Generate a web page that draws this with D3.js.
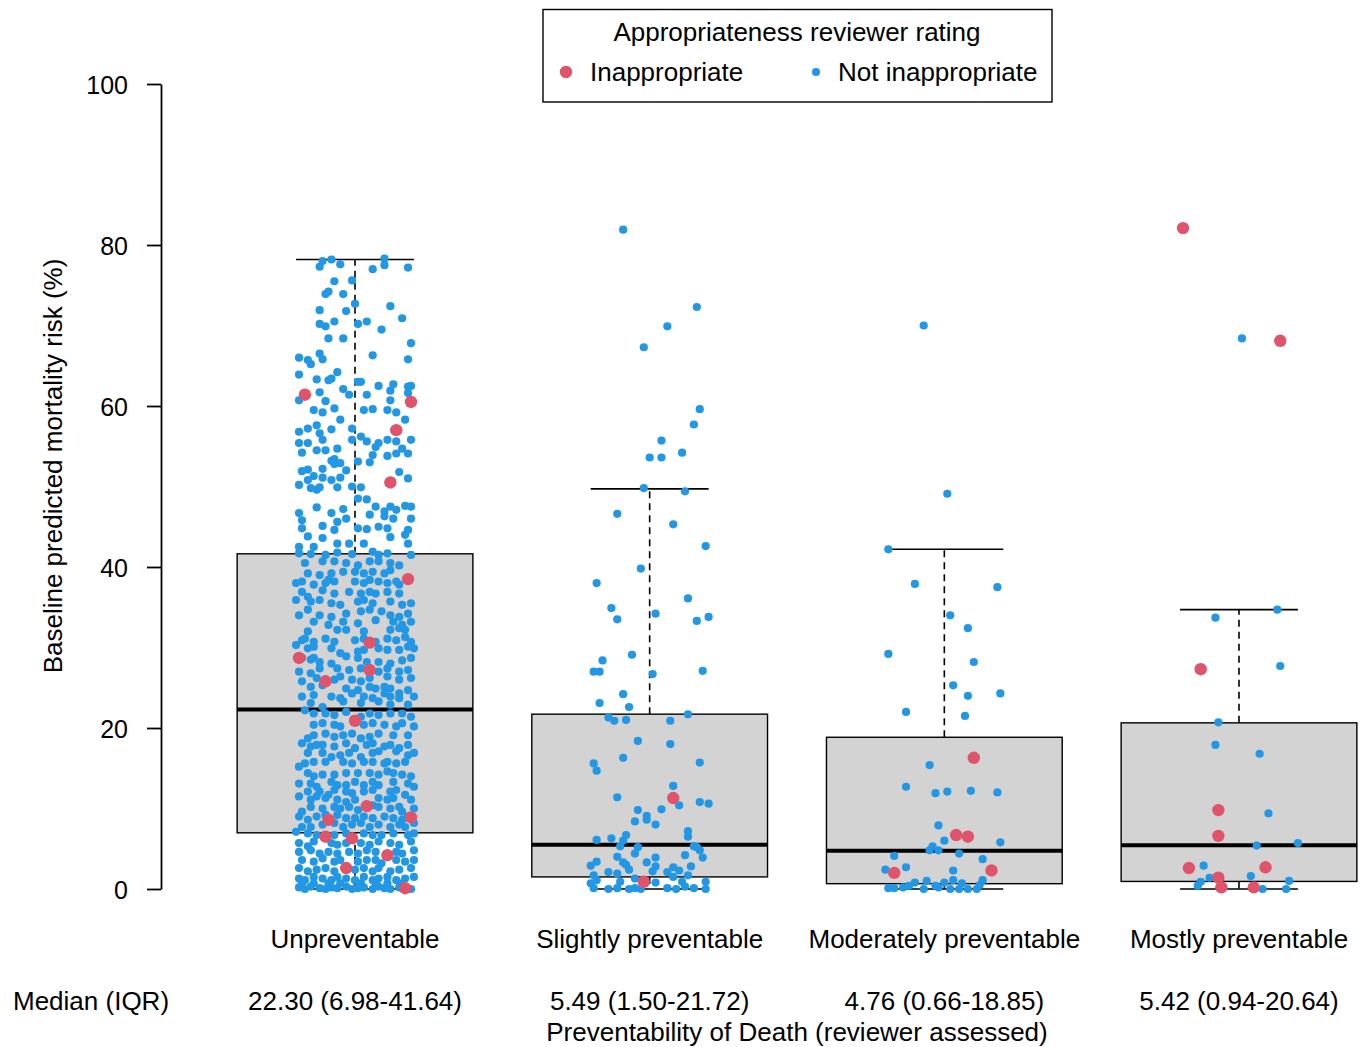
<!DOCTYPE html>
<html>
<head>
<meta charset="utf-8">
<script src="https://cdn.jsdelivr.net/npm/d3@7"></script>
<style>
html,body{margin:0;padding:0;background:#fff;}
svg{display:block;}
text{font-family:"Liberation Sans",Arial,Helvetica,sans-serif;fill:#000;}
</style>
</head>
<body>
<svg id="chart" width="1366" height="1047"></svg>
<script>
// ---------- DATA ----------
const categories = ["Unpreventable", "Slightly preventable", "Moderately preventable", "Mostly preventable"];
const medians = [22.30, 5.49, 4.76, 5.42];
const q1s = [6.98, 1.50, 0.66, 0.94];
const q3s = [41.64, 21.72, 18.85, 20.64];
const whiskerLow = [0, 0, 0, 0];
const whiskerHigh = [78.2, 49.7, 42.2, 34.7];
const summaryLabels = ["22.30 (6.98-41.64)", "5.49 (1.50-21.72)", "4.76 (0.66-18.85)", "5.42 (0.94-20.64)"];
const yTicks = [0, 20, 40, 60, 80, 100];
const legendTitle = "Appropriateness reviewer rating";
const ratingLabels = ["Inappropriate", "Not inappropriate"];
const summaryHeader = "Median (IQR)";
const xTitle = "Preventability of Death (reviewer assessed)";
const yTitle = "Baseline predicted mortality risk (%)";

// points: [jitter (category units), mortality risk %]
const unprevNot = [
[-0.11,78.0],[-0.08,78.2],[-0.12,77.3],[-0.05,77.6],[0.10,78.3],[0.10,77.5],[0.06,77.0],[0.18,77.2],[-0.07,75.5],[-0.01,75.6],
[-0.10,73.9],[-0.09,74.2],[-0.04,73.9],[0.00,72.7],[-0.12,71.9],[-0.03,71.8],[0.12,72.4],[-0.12,70.2],[-0.10,69.9],[-0.07,70.5],
[0.01,70.2],[0.04,70.5],[0.16,70.9],[0.09,69.5],[-0.09,68.4],[-0.04,68.4],[0.19,67.8],[-0.19,66.0],[-0.16,65.7],[-0.15,65.2],
[-0.12,66.5],[-0.11,65.8],[0.06,66.3],[0.18,65.8],[-0.19,63.9],[-0.13,63.3],[-0.09,63.2],[-0.08,63.4],[-0.06,64.2],[0.01,63.0],
[0.02,63.0],[0.08,62.5],[0.13,62.7],[0.18,62.4],[0.19,62.5],[-0.19,60.7],[-0.12,61.7],[-0.10,60.6],[-0.04,62.1],[-0.02,61.4],
[0.04,61.4],[0.12,61.9],[0.12,60.7],[0.18,61.6],
[-0.14,59.5],[-0.11,59.2],[-0.07,59.7],[0.03,59.5],[0.06,59.6],[0.11,59.5],[0.14,59.2],[-0.05,58.3],[0.17,58.3],
[-0.19,56.8],[-0.16,57.2],[-0.13,57.6],[-0.12,56.6],[-0.08,57.1],[-0.01,57.2],[0.02,56.2],[-0.19,55.4],[-0.16,55.4],[-0.13,54.5],
[-0.11,55.8],[-0.10,54.5],[-0.06,54.7],[-0.01,55.8],[0.04,55.6],[0.07,54.9],[0.08,55.4],[0.11,55.8],[0.14,55.6],[0.19,55.8],
[0.16,54.7],[-0.18,54.2],[0.06,53.9],[0.11,53.8],[0.14,54.1],[0.18,54.1],[-0.07,53.4],[-0.08,53.2],[-0.07,52.8],[-0.05,52.9],
[0.01,53.1],[0.05,53.0],[-0.03,52.0],[-0.18,51.9],[-0.16,52.1],[-0.11,52.2],[-0.14,51.3],[-0.11,51.1],[-0.08,50.8],[-0.05,51.1],
[-0.01,50.0],[0.15,51.8],[0.18,51.0],[-0.19,50.2],[-0.16,50.8],[-0.15,49.8],[-0.13,49.6],[-0.12,49.9],[-0.06,49.9],[0.02,49.9],
[0.01,48.5],[0.04,48.4],[-0.19,46.7],[-0.18,45.8],[-0.13,47.4],[-0.08,46.7],[-0.04,47.2],[-0.03,46.0],[-0.06,45.6],[0.05,46.5],
[0.07,47.5],[0.10,46.9],[0.12,47.5],[0.14,47.1],[0.17,47.6],[0.19,47.5],[0.10,46.3],[0.13,46.0],[0.19,46.0],[-0.18,44.8],
[-0.11,45.1],[-0.07,44.6],[0.01,44.8],[0.04,44.7],[0.08,45.0],[0.11,44.8],[0.18,44.6],[-0.16,43.8],[-0.11,43.6],[-0.06,42.9],
[-0.02,42.9],[0.03,42.9],[0.12,43.7],[0.17,44.0],[0.18,42.9],[-0.19,42.5],[-0.14,42.5],[-0.19,41.7],[-0.15,41.6],[-0.10,41.5],
[-0.06,41.8],[-0.01,41.6],[0.06,41.9],[0.08,41.5],[0.11,41.7],[0.19,41.5],
[-0.17,40.5],[-0.11,40.7],[-0.07,40.7],[-0.03,40.5],[0.01,40.2],[0.05,40.7],[0.08,40.7],[0.12,40.5],[0.15,40.2],
[-0.16,39.2],[-0.12,39.0],[-0.08,39.2],[-0.04,39.4],[0.00,39.4],[0.03,39.2],[0.06,39.4],[0.10,39.2],[0.12,39.6],
[-0.20,38.0],[-0.18,38.2],[-0.14,37.8],[-0.10,38.0],[-0.09,38.4],[-0.07,38.2],[0.00,38.2],[0.03,38.0],[0.05,38.4],[0.08,38.2],[0.11,38.0],[0.14,38.2],[0.15,37.8],
[-0.18,36.9],[-0.16,36.3],[-0.11,37.1],[-0.07,36.7],[-0.02,36.9],[0.02,36.7],[0.05,36.9],[0.07,36.7],[0.11,36.9],[0.15,36.7],
[-0.20,35.9],[-0.15,35.7],[-0.12,35.9],[-0.08,35.5],[-0.05,35.3],[0.01,35.7],[0.03,35.9],[0.06,35.5],[0.12,35.7],[0.16,35.3],[0.19,35.5],
[-0.19,34.0],[-0.16,34.7],[-0.12,34.0],[-0.08,33.8],[-0.03,34.2],[0.02,34.5],[0.05,34.7],[0.09,34.5],[0.12,34.0],[0.15,33.8],[0.18,34.2],
[-0.14,33.2],[-0.09,32.8],[-0.04,33.2],[0.01,33.0],[0.07,33.4],[0.13,33.2],[0.16,32.8],[0.19,33.2],
[-0.17,31.1],[-0.16,32.0],[-0.06,32.2],[-0.03,32.2],[0.03,32.0],[0.12,32.2],[0.15,32.4],[0.17,32.2],
[-0.20,30.3],[-0.18,30.9],[-0.14,30.7],[-0.10,31.1],[-0.07,30.7],[0.00,30.9],[0.03,31.1],[0.07,30.7],[0.11,31.1],[0.14,30.9],[0.17,31.3],[0.19,30.7],[0.20,29.9],
[-0.16,29.9],[-0.14,30.1],[-0.08,29.9],[-0.05,29.3],[0.01,29.5],[0.03,29.7],[0.08,29.9],[0.11,29.7],[0.15,29.7],[0.18,30.1],
[-0.18,28.7],[-0.15,28.5],[-0.14,28.7],
[-0.12,28.2],[-0.08,28.0],[-0.03,28.9],[0.01,28.7],[0.04,28.2],[0.08,28.2],[0.12,28.0],[0.16,28.4],[0.19,28.7],
[-0.19,27.0],[-0.15,26.8],[-0.12,27.4],[-0.06,27.4],[-0.02,27.2],[0.02,27.4],[0.08,27.0],[0.11,27.4],[0.15,27.0],[0.18,27.2],
[-0.18,25.8],[-0.13,26.2],[-0.07,26.0],[-0.05,26.4],[-0.01,26.0],[0.02,25.8],[0.05,26.2],[0.11,26.4],[0.15,26.0],[0.19,26.2],
[-0.15,25.1],[-0.11,25.3],[-0.03,24.9],[0.01,24.7],[0.05,25.1],[0.07,24.9],[0.10,25.1],[0.12,24.9],[0.15,24.3],[0.18,24.7],
[-0.18,23.9],[-0.14,24.1],[-0.08,23.9],[-0.05,23.7],[-0.01,24.3],[0.03,23.9],[0.06,23.7],[0.10,24.3],[0.12,23.9],[0.15,23.7],[0.20,23.9],
[-0.15,23.1],[-0.11,22.6],[-0.04,23.3],[0.02,23.1],[0.08,23.3],[0.12,22.9],[0.18,22.9],
[-0.17,22.2],[-0.14,21.8],[-0.10,21.8],[-0.07,21.6],[-0.03,22.0],[0.02,21.4],[0.05,21.8],[0.08,21.6],[0.12,21.8],[0.16,21.8],[0.19,21.4],
[-0.14,20.4],[-0.11,20.6],[-0.07,20.4],[-0.05,20.2],[0.03,20.4],[0.06,20.6],[0.10,20.4],[0.14,20.2],[0.16,20.6],[0.20,20.2],
[-0.16,18.7],[-0.14,19.1],[-0.10,19.3],[-0.07,18.9],[-0.04,19.1],[-0.01,19.3],[0.02,18.7],[0.05,18.9],[0.08,19.3],[0.13,19.1],[0.18,19.1],
[-0.18,18.1],[-0.15,17.7],[-0.13,17.9],[-0.11,17.9],[-0.07,17.7],[-0.03,18.1],[0.00,17.5],[0.04,17.9],[0.06,18.1],[0.10,17.7],[0.12,17.9],[0.15,17.5],[0.18,17.9],
[-0.16,16.9],[-0.11,16.9],[-0.08,16.4],[-0.05,16.6],[-0.02,16.9],[0.02,16.4],[0.06,16.9],[0.08,17.1],[0.14,17.1],[0.18,16.6],[0.20,16.9],
[-0.19,15.2],[-0.17,15.6],[-0.14,15.8],[-0.10,15.8],[-0.04,15.8],[-0.01,15.6],[0.03,15.8],[0.06,15.8],[0.10,15.6],[0.11,15.8],[0.14,15.6],[0.17,15.8],
[-0.16,14.4],[-0.14,14.0],[-0.11,14.2],[-0.07,14.2],[-0.03,14.4],[0.01,14.4],[0.05,14.4],[0.08,14.2],[0.11,14.6],[0.13,14.4],[0.16,14.2],[0.19,14.0],
[-0.19,13.1],[-0.15,13.1],[-0.13,12.7],[-0.08,13.3],[-0.06,12.9],[-0.03,12.9],[0.00,13.3],[0.03,12.9],[0.06,13.3],[0.08,12.9],[0.13,13.3],[0.18,13.1],[0.20,12.7],
[-0.16,12.1],[-0.12,12.1],[-0.09,11.7],[-0.07,12.3],[-0.03,12.1],[-0.01,11.9],[0.03,12.1],[0.06,12.3],[0.12,12.1],[0.14,12.3],[0.17,11.7],
[-0.19,11.5],[-0.15,11.1],[-0.13,11.5],[-0.10,11.3],[-0.06,11.1],[-0.03,10.8],[0.00,11.1],[0.08,11.3],[0.11,11.1],[0.13,11.3],[0.19,11.1],
[-0.18,9.6],[-0.15,10.2],[-0.11,10.0],[-0.07,10.2],[-0.05,10.0],[-0.02,10.2],[0.01,9.8],[0.06,10.4],[0.08,10.2],[0.12,10.0],[0.15,10.2],[0.16,9.6],[0.20,10.0],
[-0.19,9.0],[-0.16,8.6],[-0.13,9.0],[-0.10,9.2],[-0.06,9.2],[-0.03,8.8],[0.00,8.8],[0.03,9.0],[0.06,8.8],[0.10,9.0],[0.13,8.8],[0.16,8.6],[0.18,9.0],
[-0.18,7.7],[-0.15,7.7],[-0.11,8.0],[-0.07,8.2],[-0.04,7.7],[-0.01,8.0],[0.02,8.2],[0.05,7.7],[0.08,8.0],[0.12,7.7],[0.15,8.0],[0.17,7.7],[0.20,8.2],
[-0.20,7.1],[-0.16,6.9],[-0.13,6.7],[-0.07,6.7],[-0.03,6.9],[0.03,6.9],[0.06,6.7],[0.09,6.7],[0.13,6.9],[0.18,6.7],[0.20,6.9],
[-0.19,5.7],[-0.16,5.3],[-0.14,5.9],[-0.08,5.7],[-0.06,5.5],[-0.03,5.7],[0.02,5.7],[0.05,5.5],[0.08,5.9],[0.12,5.7],[0.15,5.5],[0.19,5.9],
[-0.19,4.6],[-0.15,4.8],[-0.12,4.4],[-0.09,4.6],[-0.06,4.4],[-0.02,4.6],[0.01,4.4],[0.04,4.8],[0.07,4.6],[0.14,4.6],[0.16,4.4],[0.20,4.8],
[-0.18,3.6],[-0.14,3.4],[-0.11,3.8],[-0.07,3.4],[-0.05,3.6],[0.01,3.4],[0.04,3.6],[0.07,3.6],[0.09,3.2],[0.14,3.6],[0.17,3.4],[0.20,3.6],
[-0.19,2.6],[-0.16,2.2],[-0.13,2.4],[-0.10,2.6],[-0.07,2.2],[0.00,2.4],[0.03,2.6],[0.06,2.2],[0.08,2.6],[0.12,2.2],[0.15,2.4],[0.19,2.6],
[-0.19,1.3],[-0.17,1.1],[-0.14,1.5],[-0.11,1.3],[-0.08,1.1],[-0.06,1.5],[-0.03,1.3],[0.00,1.1],[0.03,1.5],[0.06,1.1],[0.08,1.3],[0.11,1.5],[0.14,1.1],[0.17,1.3],[0.20,1.5],
[-0.18,0.7],[-0.14,0.7],[-0.09,0.7],[-0.05,0.7],[0.02,0.7],[0.07,0.7],[0.11,0.7],[0.16,0.7],
[-0.19,0.2],[-0.17,0.0],[-0.15,0.3],[-0.12,0.1],[-0.10,0.0],[-0.08,0.2],[-0.06,0.1],[-0.03,0.3],[-0.01,0.0],[0.01,0.1],[0.03,0.2],[0.06,0.0],[0.08,0.3],[0.10,0.1],[0.12,0.0],[0.15,0.2],[0.17,0.1],[0.19,0.0]
];
const unprevInapp = [
[-0.17,61.4],[0.19,60.5],[0.14,57.0],[0.12,50.5],[0.18,38.5],[0.05,30.6],[-0.19,28.7],[0.05,27.2],[-0.10,25.8],[0.00,20.9],
[0.04,10.3],[-0.09,8.6],[0.19,8.9],[-0.10,6.5],[-0.01,6.3],[0.11,4.2],[-0.03,2.6],[0.17,0.1]
];
const slightNot = [
[-0.09,81.9],[0.16,72.3],[0.06,69.9],[-0.02,67.3],[0.17,59.6],[0.15,57.7],[0.04,55.7],[0.11,54.2],[0.00,53.6],[0.04,53.6],
[-0.02,49.8],[0.12,49.4],[-0.11,46.6],[0.08,45.3],[0.19,42.6],[-0.03,39.8],[-0.18,38.0],[0.13,36.1],[-0.13,34.9],[0.02,34.2],
[-0.11,33.5],[0.16,33.3],[0.20,33.8],[-0.06,29.1],[-0.16,28.4],[-0.19,27.0],[-0.17,27.0],[0.01,26.7],[0.18,27.1],[-0.09,24.2],
[-0.17,23.1],[-0.07,22.6],[0.13,21.7],[-0.14,21.3],[-0.12,20.9],[-0.08,21.0],[0.07,20.9],[-0.04,18.4],[0.07,18.0],[-0.09,16.3],
[-0.19,15.6],[-0.18,14.7],[0.17,15.7],[0.08,12.8],[-0.11,11.4],[0.10,10.4],[0.17,10.8],[0.20,10.6],[-0.04,9.8],[0.04,9.9],
[-0.01,9.1],[-0.01,8.6],[-0.05,8.4],[0.02,8.0],[0.13,7.2],[0.13,6.5],[-0.08,6.7],[-0.18,6.1],[-0.13,6.3],[-0.09,6.0],
[-0.10,5.3],[-0.04,5.2],[0.15,5.3],[0.16,5.2],[0.17,4.8],[-0.05,4.4],[-0.11,4.0],[0.12,4.2],[0.18,3.9],[0.02,3.9],
[-0.18,3.4],[-0.09,3.3],[-0.08,3.0],[-0.01,3.3],[-0.20,2.9],[-0.07,2.4],[0.02,2.8],[0.08,2.7],[0.14,2.8],[-0.14,2.1],
[-0.11,1.9],[0.01,2.2],[0.06,2.1],[0.10,2.3],[-0.19,1.7],[0.13,1.7],[0.08,1.5],[-0.05,1.3],[-0.18,1.1],[-0.20,0.7],
[-0.10,0.9],[0.02,0.8],[0.11,0.9],[0.19,0.9],[-0.19,0.1],[-0.14,0.0],[-0.11,0.1],[-0.07,0.0],[-0.05,0.1],[-0.03,0.0],
[0.06,0.1],[0.09,0.0],[0.12,0.3],[0.15,0.1],[0.19,0.0]
];
const slightInapp = [[0.08,11.3],[-0.02,0.9]];
const modNot = [
[-0.07,70.0],[0.01,49.1],[-0.19,42.2],[-0.10,37.9],[0.18,37.5],[0.02,34.0],[0.08,32.4],[-0.19,29.2],[0.10,28.2],[0.03,25.3],
[0.08,24.0],[0.19,24.3],[-0.13,22.0],[0.07,21.5],[-0.05,15.4],[-0.13,12.7],[-0.03,11.9],[0.01,12.1],[0.09,12.2],[0.18,12.0],
[-0.02,7.9],[0.00,6.0],[0.19,5.8],[-0.04,5.3],[-0.05,4.8],[-0.02,4.8],[0.05,4.4],[-0.17,4.1],[0.13,3.7],[-0.13,2.7],
[-0.20,2.4],[0.03,2.3],[0.13,1.1],[-0.10,0.8],[-0.06,1.0],[0.00,0.8],[0.03,1.1],[0.06,0.7],[0.12,0.5],[-0.12,0.4],
[-0.03,0.4],[-0.19,0.1],[-0.17,0.1],[-0.14,0.2],[-0.07,0.0],[-0.02,0.2],[0.02,0.0],[0.05,0.0],[0.08,0.0],[0.11,0.0]
];
const modInapp = [[0.10,16.3],[0.04,6.7],[0.08,6.5],[-0.17,2.0],[0.16,2.3]];
const mostNot = [
[0.01,68.4],[0.13,34.7],[-0.08,33.7],[0.14,27.7],[-0.07,20.7],[-0.08,17.9],[0.07,16.8],[0.10,9.4],[0.06,5.4],[0.20,5.7],
[-0.12,2.9],[-0.10,1.4],[0.04,1.6],[-0.13,0.9],[-0.14,0.4],[0.08,0.0],[0.17,1.0],[0.16,0.0]
];
const mostInapp = [
[-0.19,82.1],[0.14,68.1],[-0.13,27.3],[-0.07,9.8],[-0.07,6.6],[-0.17,2.6],[0.09,2.7],[-0.07,1.4],[-0.06,0.2],[0.05,0.2]
];
const groupNot = [unprevNot, slightNot, modNot, mostNot];
const groupInapp = [unprevInapp, slightInapp, modInapp, mostInapp];

// ---------- STYLE ----------
const BLUE = "#2297E6", RED = "#DF536B", BOXFILL = "#D3D3D3";
const FS = 26, FS_TICK = 25;
const R_NOT = 4.1, R_INAPP = 6.2;

const svg = d3.select("#chart");
const x = d3.scaleLinear().domain([1, 4]).range([355, 1239]);
const y = d3.scaleLinear().domain([0, 100]).range([889, 84]);
const boxHalf = 0.4, capHalf = 0.2;

// y axis
const yAxis = d3.axisLeft(y).tickValues(yTicks).tickSize(14).tickSizeOuter(0).tickPadding(19).tickFormat(d3.format("d"));
const ga = svg.append("g").attr("transform", "translate(161,0)").call(yAxis);
ga.select(".domain").attr("stroke", "#000").attr("stroke-width", 1.8);
ga.selectAll(".tick line").attr("stroke", "#000").attr("stroke-width", 1.8);
ga.selectAll(".tick text").attr("font-size", FS_TICK).attr("font-family", "Liberation Sans, Arial, sans-serif").attr("dy", "0.36em").attr("fill", "#000");

// y title
svg.append("text").attr("transform", "translate(62,466) rotate(-90)").attr("text-anchor", "middle")
  .attr("font-size", FS).text(yTitle);

// boxes
const idx = d3.range(categories.length);
const gb = svg.append("g");
idx.forEach(i => {
  const cx = i + 1;
  gb.append("line").attr("x1", x(cx)).attr("x2", x(cx)).attr("y1", y(q3s[i])).attr("y2", y(whiskerHigh[i]))
    .attr("stroke", "#000").attr("stroke-width", 1.6).attr("stroke-dasharray", "7,5");
  gb.append("line").attr("x1", x(cx)).attr("x2", x(cx)).attr("y1", y(q1s[i])).attr("y2", y(whiskerLow[i]))
    .attr("stroke", "#000").attr("stroke-width", 1.6).attr("stroke-dasharray", "7,5");
  [whiskerHigh[i], whiskerLow[i]].forEach(v => {
    gb.append("line").attr("x1", x(cx - capHalf)).attr("x2", x(cx + capHalf)).attr("y1", y(v)).attr("y2", y(v))
      .attr("stroke", "#000").attr("stroke-width", 1.6);
  });
  gb.append("rect").attr("x", x(cx - boxHalf)).attr("width", x(cx + boxHalf) - x(cx - boxHalf))
    .attr("y", y(q3s[i])).attr("height", y(q1s[i]) - y(q3s[i]))
    .attr("fill", BOXFILL).attr("stroke", "#000").attr("stroke-width", 1.4);
  gb.append("line").attr("x1", x(cx - boxHalf)).attr("x2", x(cx + boxHalf)).attr("y1", y(medians[i])).attr("y2", y(medians[i]))
    .attr("stroke", "#000").attr("stroke-width", 4);
});

// points
const gp = svg.append("g");
idx.forEach(i => {
  const cx = i + 1;
  gp.selectAll(null).data(groupNot[i]).enter().append("circle")
    .attr("cx", d => x(cx + d[0])).attr("cy", d => y(d[1])).attr("r", R_NOT).attr("fill", BLUE);
  gp.selectAll(null).data(groupInapp[i]).enter().append("circle")
    .attr("cx", d => x(cx + d[0])).attr("cy", d => y(d[1])).attr("r", R_INAPP).attr("fill", RED);
});

// category labels & summary row
idx.forEach(i => {
  svg.append("text").attr("x", x(i + 1)).attr("y", 948).attr("text-anchor", "middle").attr("font-size", FS).text(categories[i]);
  svg.append("text").attr("x", x(i + 1)).attr("y", 1010).attr("text-anchor", "middle").attr("font-size", FS).text(summaryLabels[i]);
});
svg.append("text").attr("x", 13).attr("y", 1010).attr("font-size", FS).text(summaryHeader);
svg.append("text").attr("x", x(2.5)).attr("y", 1041).attr("text-anchor", "middle").attr("font-size", FS).text(xTitle);

// legend
const lg = svg.append("g");
lg.append("rect").attr("x", 543).attr("y", 9.5).attr("width", 509).attr("height", 92.5)
  .attr("fill", "#fff").attr("stroke", "#000").attr("stroke-width", 1.4);
lg.append("text").attr("x", 797).attr("y", 41).attr("text-anchor", "middle").attr("font-size", FS).text(legendTitle);
lg.append("circle").attr("cx", 566).attr("cy", 72).attr("r", 6.2).attr("fill", RED);
lg.append("text").attr("x", 590).attr("y", 81).attr("font-size", FS).text(ratingLabels[0]);
lg.append("circle").attr("cx", 816).attr("cy", 72).attr("r", 4.1).attr("fill", BLUE);
lg.append("text").attr("x", 838).attr("y", 81).attr("font-size", FS).text(ratingLabels[1]);
</script>
</body>
</html>
